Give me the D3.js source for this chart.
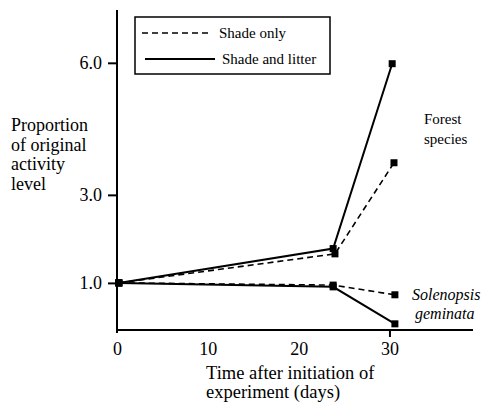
<!DOCTYPE html>
<head>
  <meta charset="utf-8">
  <script src="https://d3js.org/d3.v7.min.js"></script>
  <style>
    body { margin: 0; background: #fff; }
    svg text, svg tspan { fill: #000; }
    .axis path, .axis line { stroke: #000; stroke-width: 2; }
    .series { fill: none; stroke: #000; stroke-width: 2; }
    .dashed { stroke-dasharray: 6,4; stroke-width: 1.6; }
  </style>
</head>
<body>
  <div id="chart"></div>
  <script>
    // data
    var yTicks = [1.0, 3.0, 6.0];
    var xTicks = [0, 10, 20, 30];

    var forestShadeDays = [0.2, 24.0, 30.5];
    var forestShadeVals = [1.0, 1.66, 3.73];
    var forestLitterDays = [0.2, 23.8, 30.3];
    var forestLitterVals = [1.0, 1.78, 5.98];
    var solShadeDays = [0.2, 23.8, 30.6];
    var solShadeVals = [1.0, 0.95, 0.73];
    var solLitterDays = [0.2, 23.8, 30.6];
    var solLitterVals = [1.0, 0.91, 0.07];

    var series = [
      {days: forestShadeDays, vals: forestShadeVals, dashed: true},
      {days: forestLitterDays, vals: forestLitterVals, dashed: false},
      {days: solShadeDays, vals: solShadeVals, dashed: true},
      {days: solLitterDays, vals: solLitterVals, dashed: false}
    ];

    var width = 490, height = 406;
    var serif = "'Liberation Serif', 'DejaVu Serif', serif";
    var svg = d3.select("#chart").append("svg")
      .attr("width", width)
      .attr("height", height)
      .style("font-family", serif);

    var x = d3.scaleLinear().domain([0, 39.2]).range([117, 473]);
    var y = d3.scaleLinear().domain([-0.07, 7.2]).range([330, 10]);

    // x axis
    svg.append("g")
      .attr("class", "axis")
      .attr("transform", "translate(0," + y.range()[0] + ")")
      .call(d3.axisBottom(x).tickValues(xTicks).tickSize(0).tickPadding(12)
        .tickFormat(d3.format("d")))
      .attr("font-family", null).attr("font-size", 18)
      .call(function(g) { g.select(".domain").attr("d", "M" + x.range()[0] + ",0H" + x.range()[1]); });
    svg.append("g")
      .attr("class", "axis")
      .attr("transform", "translate(0," + y.range()[0] + ")")
      .call(d3.axisBottom(x).tickValues([30]).tickSize(7).tickFormat(""))
      .call(function(g) { g.select(".domain").remove(); });

    // y axis
    svg.append("g")
      .attr("class", "axis")
      .attr("transform", "translate(" + x.range()[0] + ",0)")
      .call(d3.axisLeft(y).tickValues(yTicks).tickSize(9).tickPadding(6)
        .tickFormat(d3.format(".1f")))
      .attr("font-family", null).attr("font-size", 18)
      .call(function(g) { g.select(".domain").attr("d", "M0," + (y.range()[0] + 3) + "V" + y.range()[1]); });

    var line = d3.line()
      .x(function(d) { return x(d[0]); })
      .y(function(d) { return y(d[1]); });

    series.forEach(function(s) {
      var pts = d3.zip(s.days, s.vals);
      svg.append("path")
        .datum(pts)
        .attr("class", s.dashed ? "series dashed" : "series")
        .attr("d", line);
      svg.selectAll(null)
        .data(pts)
        .enter().append("rect")
          .attr("x", function(d) { return x(d[0]) - 3.5; })
          .attr("y", function(d) { return y(d[1]) - 3.5; })
          .attr("width", 7)
          .attr("height", 7)
          .attr("fill", "#000");
    });

    // legend
    var legend = svg.append("g");
    legend.append("rect")
      .attr("x", 135).attr("y", 17).attr("width", 195).attr("height", 57)
      .attr("fill", "none").attr("stroke", "#000").attr("stroke-width", 1.5);
    legend.append("line")
      .attr("x1", 142).attr("x2", 212).attr("y1", 33).attr("y2", 33)
      .attr("class", "series dashed");
    legend.append("line")
      .attr("x1", 145).attr("x2", 215).attr("y1", 59).attr("y2", 59)
      .attr("class", "series").attr("stroke-width", 1.5);
    legend.append("text").attr("x", 219).attr("y", 38)
      .style("font-size", "15px").text("Shade only");
    legend.append("text").attr("x", 222).attr("y", 64)
      .style("font-size", "15px").text("Shade and litter");

    // y label
    var ylab = ["Proportion", "of original", "activity", "level"];
    svg.append("text")
      .style("font-size", "18px")
      .selectAll("tspan")
      .data(ylab)
      .enter().append("tspan")
        .attr("x", 11)
        .attr("y", function(d, i) { return 131 + i * 19.5; })
        .text(function(d) { return d; });

    // x label
    var xlab = ["Time after initiation of", "experiment (days)"];
    svg.append("text")
      .style("font-size", "18.5px")
      .selectAll("tspan")
      .data(xlab)
      .enter().append("tspan")
        .attr("x", 206)
        .attr("y", function(d, i) { return 379 + i * 19; })
        .text(function(d) { return d; });

    // series labels
    svg.append("text")
      .style("font-size", "15px")
      .selectAll("tspan")
      .data(["Forest", "species"])
      .enter().append("tspan")
        .attr("x", 424)
        .attr("y", function(d, i) { return 124 + i * 20; })
        .text(function(d) { return d; });
    svg.append("text")
      .style("font-size", "16px")
      .style("font-style", "italic")
      .selectAll("tspan")
      .data(["Solenopsis", "geminata"])
      .enter().append("tspan")
        .attr("x", function(d, i) { return 412 + i * 3; })
        .attr("y", function(d, i) { return 300 + i * 19; })
        .text(function(d) { return d; });
  </script>
</body>
